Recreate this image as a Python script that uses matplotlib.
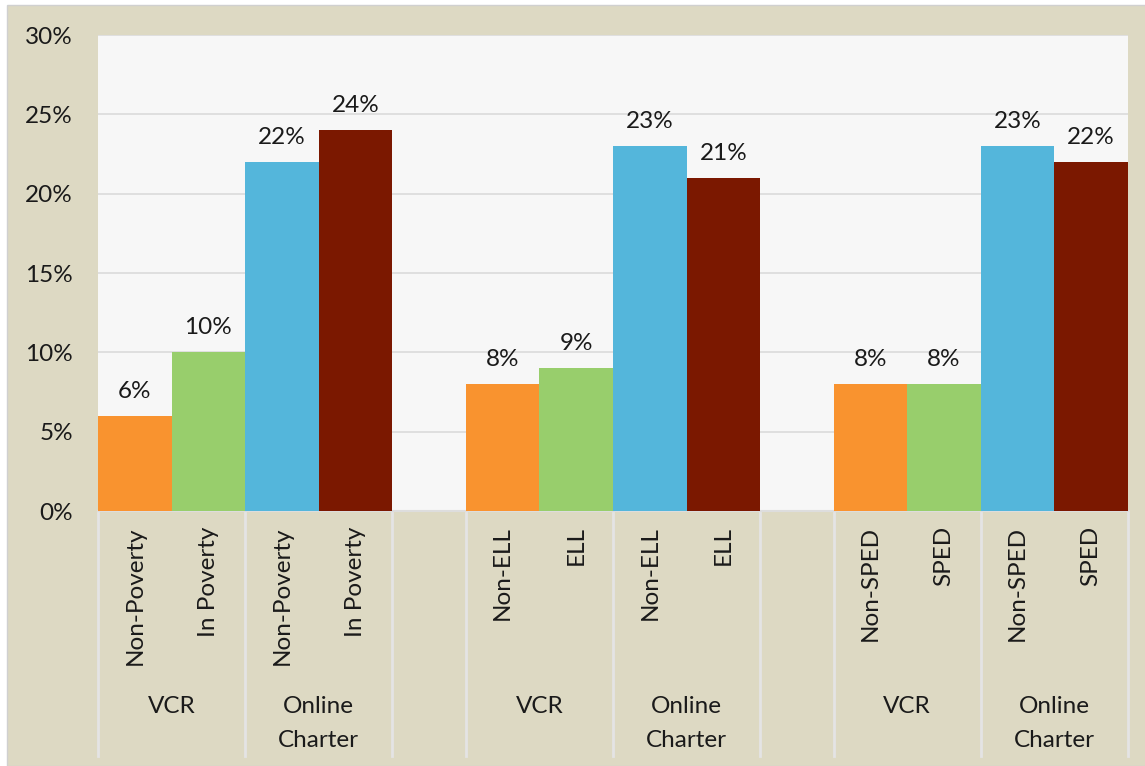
import numpy as np
import matplotlib.pyplot as plt
from matplotlib.patches import Rectangle
from matplotlib.transforms import blended_transform_factory

plt.rcParams['font.family'] = ['Lato', 'DejaVu Sans']

# data
sub_labels = ["Non-Poverty", "In Poverty", "Non-Poverty", "In Poverty",
              "Non-ELL", "ELL", "Non-ELL", "ELL",
              "Non-SPED", "SPED", "Non-SPED", "SPED"]
values = [6, 10, 22, 24,
          8, 9, 23, 21,
          8, 8, 23, 22]
group_labels = ["VCR", "Online\nCharter"] * 3
bar_colors = ["#f9932f", "#98ce6c", "#54b6db", "#7b1800"] * 3
yticks = [0, 5, 10, 15, 20, 25, 30]

# slot positions: 4 bars, one empty slot, 4 bars, empty, 4 bars
pos = [0, 1, 2, 3, 5, 6, 7, 8, 10, 11, 12, 13]
group_centers = [0.5, 2.5, 5.5, 7.5, 10.5, 12.5]
separators = [-0.5, 1.5, 3.5, 4.5, 6.5, 8.5, 9.5, 11.5, 13.5]

beige = "#ddd9c3"
txt = "#1a1a1a"
fs = 17.5

fig = plt.figure(figsize=(11.45, 7.66), dpi=100, facecolor="white")
fig.patches.append(Rectangle((7 / 1145, 0), 1, (766 - 5) / 766,
                             transform=fig.transFigure, facecolor=beige,
                             edgecolor="#d0d0d0", linewidth=1, zorder=-5))

ax = fig.add_axes([98 / 1145, 255 / 766, 1030 / 1145, 476 / 766])
ax.set_facecolor("#f7f7f7")

ax.bar(pos, values, width=1.0, color=bar_colors, zorder=3)
for x, v in zip(pos, values):
    ax.annotate(f"{v}%", (x, v), xytext=(0, 10), textcoords="offset points",
                ha="center", va="bottom", fontsize=fs, color=txt)

ax.set_xlim(-0.5, 13.5)
ax.set_ylim(0, 30)
ax.set_yticks(yticks)
ax.set_yticklabels([f"{t}%" for t in yticks], fontsize=fs, color=txt)
ax.tick_params(axis="y", length=0, pad=18)
ax.set_xticks([])
ax.grid(axis="y", color="#dddddd", linewidth=1.3, zorder=0)
for s in ["left", "right", "top"]:
    ax.spines[s].set_visible(False)
ax.spines["bottom"].set_color("#dddddd")
ax.spines["bottom"].set_linewidth(1.5)

tr = blended_transform_factory(ax.transData, ax.transAxes)
for x, lab in zip(pos, sub_labels):
    ax.text(x, -0.032, lab, transform=tr, rotation=90, ha="center", va="top",
            fontsize=fs, color=txt)
for x, lab in zip(group_centers, group_labels):
    ax.text(x, -0.389, lab, transform=tr, ha="center", va="top",
            fontsize=fs, color=txt, linespacing=1.75)
for x in separators:
    ax.plot([x, x], [0, -0.515], transform=tr, color="#e4e4e4",
            linewidth=2, clip_on=False)

fig.savefig("out.png", dpi=100, facecolor="white")
